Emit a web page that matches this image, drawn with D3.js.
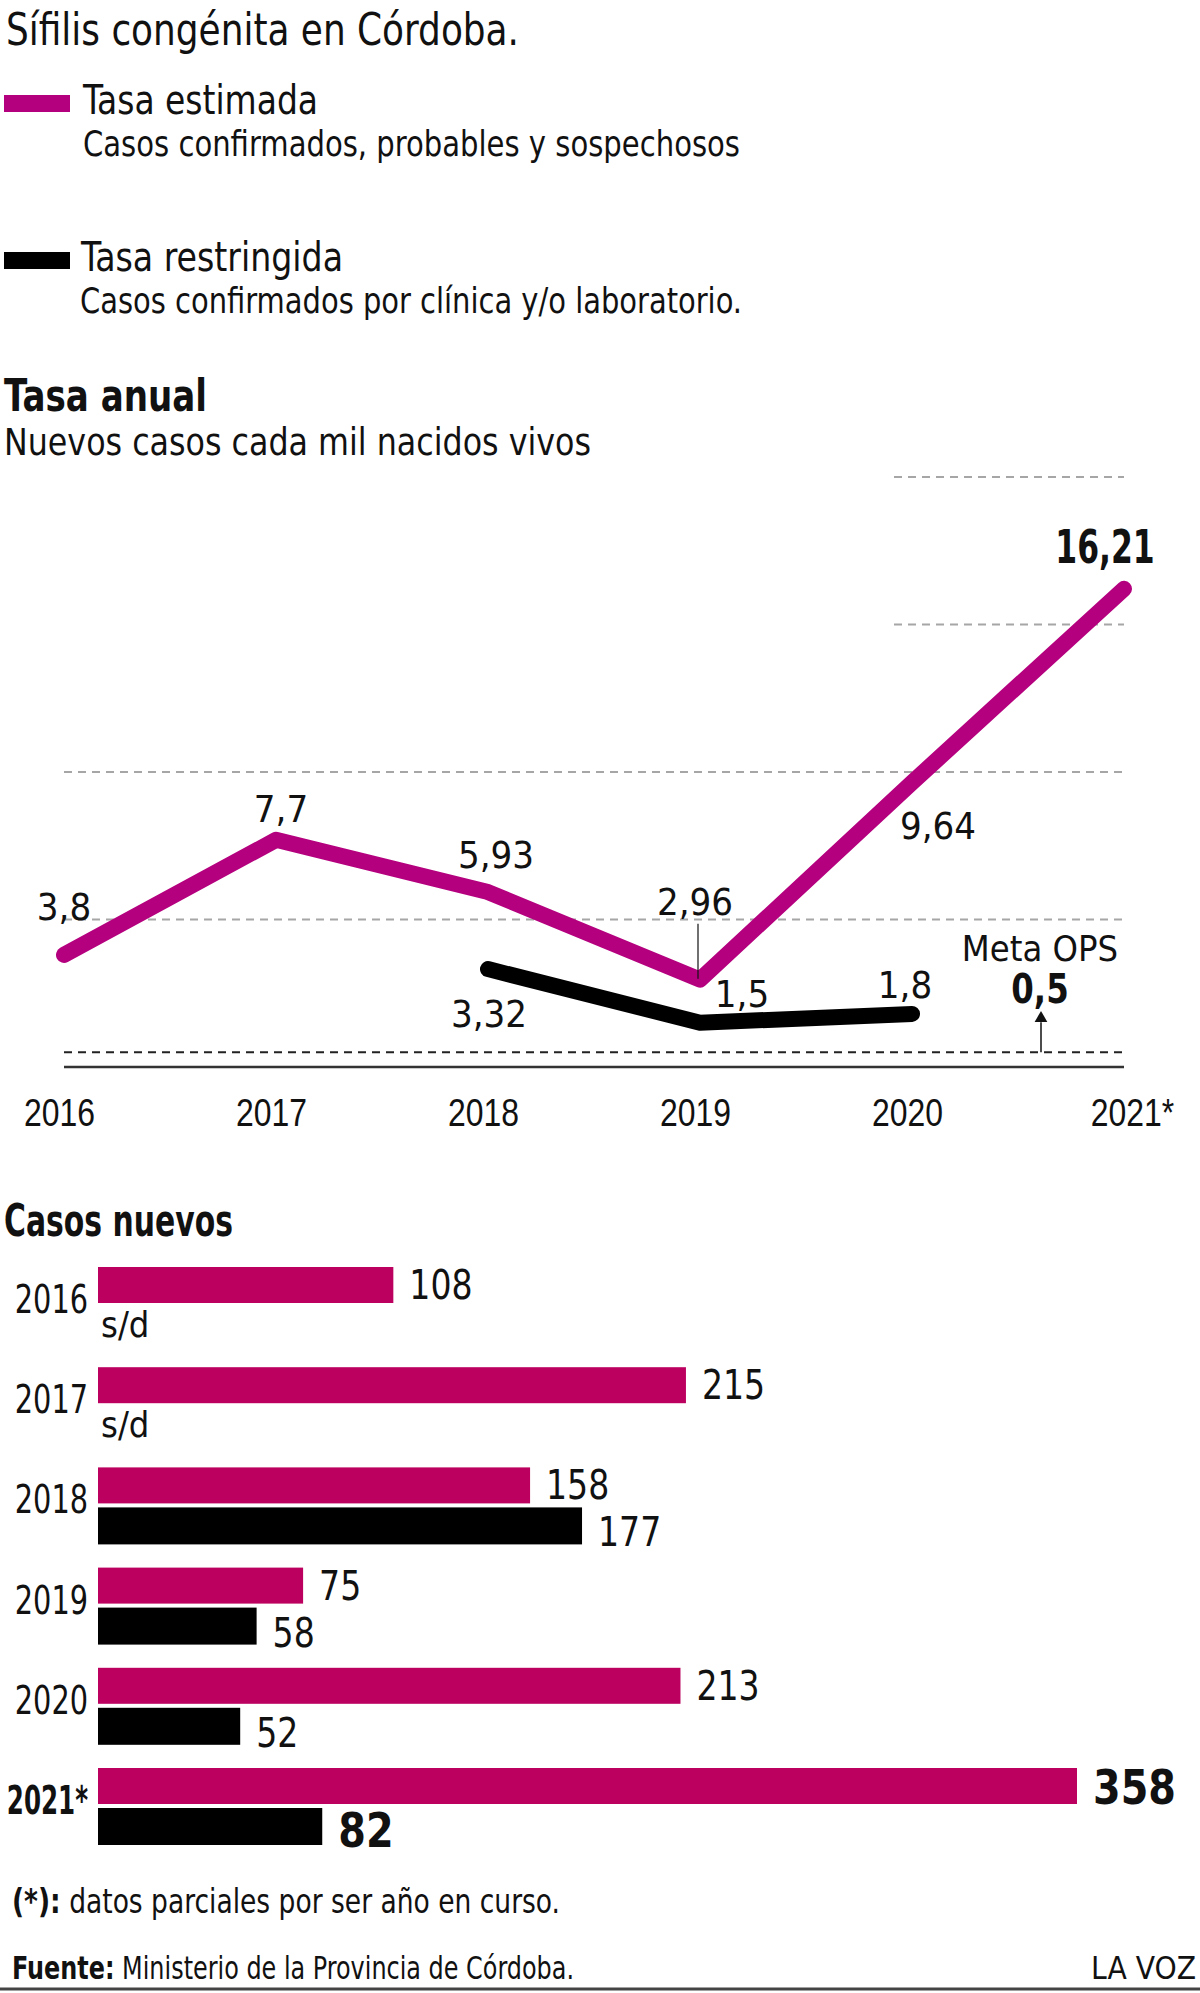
<!DOCTYPE html>
<html>
<head>
<meta charset="utf-8">
<script src="https://cdn.jsdelivr.net/npm/d3@7"></script>
<style>
  body { margin: 0; background: #fff; }
  svg { display: block; font-family: "Liberation Sans Narrow", "DejaVu Sans Condensed", sans-serif; }
</style>
</head>
<body>
<script>
// data
var years = ["2016", "2017", "2018", "2019", "2020", "2021*"];
var tasaEstimada = [3.8, 7.7, 5.93, 2.96, 9.64, 16.21];
var tasaRestringida = [null, null, 3.32, 1.5, 1.8, null];
var gridTicks = [5, 10, 15, 20];
var metaOPS = 0.5;
var casosEstimados = [108, 215, 158, 75, 213, 358];
var casosRestringidos = [null, null, 177, 58, 52, 82];

var pinkLine = "#b4007e", pinkBar = "#bb005f";
var width = 1200, height = 1993;

var svg = d3.select("body").append("svg")
    .attr("width", width)
    .attr("height", height);

function txt(x, y, s, size, weight, len) {
  var t = svg.append("text")
    .attr("x", x).attr("y", y)
    .style("font-size", size + "px")
    .style("font-weight", weight || "normal")
    .style("fill", "#111")
    .text(s);
  if (len) t.attr("textLength", len).attr("lengthAdjust", "spacingAndGlyphs");
  return t;
}

// squeeze text horizontally to look like the condensed original
function narrow(sel, k) {
  sel.each(function() {
    this.setAttribute("textLength", this.getComputedTextLength() * k);
    this.setAttribute("lengthAdjust", "spacingAndGlyphs");
  });
}

// header + legend
txt(6, 45, "Sífilis congénita en Córdoba.", 44, "normal", 513);

svg.append("rect").attr("x", 4).attr("y", 95).attr("width", 66).attr("height", 17).style("fill", pinkLine);
txt(83, 114, "Tasa estimada", 40, "normal", 235);
txt(83, 156, "Casos confirmados, probables y sospechosos", 35, "normal", 657);

svg.append("rect").attr("x", 4).attr("y", 252).attr("width", 66).attr("height", 17).style("fill", "#000");
txt(81, 271, "Tasa restringida", 40, "normal", 262);
txt(80, 313, "Casos confirmados por clínica y/o laboratorio.", 35, "normal", 662);

txt(4, 411, "Tasa anual", 44, "bold", 203);
txt(4, 455, "Nuevos casos cada mil nacidos vivos", 37, "normal", 587);

// ---- line chart
var x = d3.scalePoint().domain(years).range([64, 1124]);
var y = d3.scaleLinear().domain([0, 20]).range([1067, 477]);
var comma = function(v) { return String(v).replace(".", ","); };

var grid = svg.append("g");
grid.selectAll(".grid")
  .data(gridTicks)
  .enter().append("line")
  .attr("class", "grid")
  .attr("x1", function(d) { return d > 10 ? 894 : x("2016"); })
  .attr("x2", x("2021*"))
  .attr("y1", function(d) { return y(d); })
  .attr("y2", function(d) { return y(d); })
  .style("stroke", "#a6a6a6")
  .style("stroke-width", 2)
  .style("stroke-dasharray", "8,6");

grid.append("line")
  .attr("x1", x("2016")).attr("x2", x("2021*"))
  .attr("y1", y(metaOPS)).attr("y2", y(metaOPS))
  .style("stroke", "#222").style("stroke-width", 2).style("stroke-dasharray", "8,6");

grid.append("line")
  .attr("x1", x("2016")).attr("x2", x("2021*"))
  .attr("y1", y(0)).attr("y2", y(0))
  .style("stroke", "#333").style("stroke-width", 2.5);

var xAxis = svg.append("g")
  .attr("transform", "translate(0," + y(0) + ")")
  .call(d3.axisBottom(x).tickSize(0).tickPadding(59));
xAxis.select(".domain").remove();
xAxis.selectAll("text")
  .style("font-family", "inherit")
  .style("font-size", "38px")
  .style("fill", "#111")
  .attr("dy", "0")
  .attr("dx", function(d) { return d === "2021*" ? 8 : -5; });
narrow(xAxis.selectAll("text"), 0.84);

var line = d3.line()
  .defined(function(d) { return d[1] != null; })
  .x(function(d) { return x(d[0]); })
  .y(function(d) { return y(d[1]); });

svg.append("path")
  .datum(d3.zip(years, tasaRestringida))
  .attr("d", line)
  .style("fill", "none").style("stroke", "#000")
  .style("stroke-width", 16).style("stroke-linecap", "round").style("stroke-linejoin", "round");

svg.append("path")
  .datum(d3.zip(years, tasaEstimada))
  .attr("d", line)
  .style("fill", "none").style("stroke", pinkLine)
  .style("stroke-width", 16).style("stroke-linecap", "round").style("stroke-linejoin", "round");

// label placement offsets (dx, dy) from each point
var estOffsets = [[0, -35], [5, -18], [8, -24], [-5, -65], [26, 56], [-19, -26]];
var resOffsets = [null, null, [1, 58], [42, -16], [-7, -16], null];

// leader for 2,96
svg.append("line")
  .attr("x1", x("2019") - 2).attr("x2", x("2019") - 2)
  .attr("y1", y(2.96) - 56).attr("y2", y(2.96) - 1)
  .style("stroke", "#111").style("stroke-width", 1.2);

var lblEst = svg.selectAll(".lblEst")
  .data(d3.zip(years, tasaEstimada, estOffsets))
  .enter().append("text")
  .attr("class", "lblEst")
  .attr("x", function(d) { return x(d[0]) + d[2][0]; })
  .attr("y", function(d) { return y(d[1]) + d[2][1]; })
  .attr("text-anchor", "middle")
  .style("font-size", function(d) { return d[0] === "2021*" ? "46px" : "38px"; })
  .style("font-weight", function(d) { return d[0] === "2021*" ? "bold" : "normal"; })
  .style("fill", "#111")
  .text(function(d) { return comma(d[1]); });
narrow(lblEst.filter(function(d) { return d[0] === "2021*"; }), 0.76);

svg.selectAll(".lblRes")
  .data(d3.zip(years, tasaRestringida, resOffsets).filter(function(d) { return d[1] != null; }))
  .enter().append("text")
  .attr("class", "lblRes")
  .attr("x", function(d) { return x(d[0]) + d[2][0]; })
  .attr("y", function(d) { return y(d[1]) + d[2][1]; })
  .attr("text-anchor", "middle")
  .style("font-size", "38px")
  .style("fill", "#111")
  .text(function(d) { return comma(d[1]); });

// Meta OPS
var metaX = 1040;
txt(metaX, y(metaOPS) - 91, "Meta OPS", 36).attr("text-anchor", "middle");
narrow(txt(metaX, y(metaOPS) - 49, comma(metaOPS), 40, "bold").attr("text-anchor", "middle"), 0.9);
svg.append("line")
  .attr("x1", metaX + 1).attr("x2", metaX + 1)
  .attr("y1", y(metaOPS)).attr("y2", y(metaOPS) - 30)
  .style("stroke", "#111").style("stroke-width", 1.5);
svg.append("path")
  .attr("d", d3.symbol().type(d3.symbolTriangle).size(70)())
  .attr("transform", "translate(" + (metaX + 1) + "," + (y(metaOPS) - 34) + ")")
  .style("fill", "#111");

// ---- bar chart
txt(4, 1236, "Casos nuevos", 44, "bold", 229);

var xb = d3.scaleLinear().domain([0, 358]).range([98, 1077]);
var yb = d3.scaleBand().domain(years).range([1267, 1267 + 6 * 100.2]);
var barH = 36, blackOff = 40;

var row = svg.selectAll(".row")
  .data(d3.zip(years, casosEstimados, casosRestringidos))
  .enter().append("g")
  .attr("class", "row")
  .attr("transform", function(d) { return "translate(0," + yb(d[0]) + ")"; });

var yearLbl = row.append("text")
  .attr("x", 88).attr("y", 46)
  .attr("text-anchor", "end")
  .style("font-size", "39px")
  .style("font-weight", function(d) { return d[0] === "2021*" ? "bold" : "normal"; })
  .style("fill", "#111")
  .text(function(d) { return d[0]; });
narrow(yearLbl.filter(function(d) { return d[0] !== "2021*"; }), 0.82);
narrow(yearLbl.filter(function(d) { return d[0] === "2021*"; }), 0.7);

row.append("rect")
  .attr("x", xb(0)).attr("y", 0)
  .attr("width", function(d) { return xb(d[1]) - xb(0); })
  .attr("height", barH)
  .style("fill", pinkBar);

var pinkLbl = row.append("text")
  .attr("x", function(d) { return xb(d[1]) + 16; })
  .attr("y", function(d) { return d[0] === "2021*" ? 36 : 32; })
  .style("font-size", function(d) { return d[0] === "2021*" ? "48px" : "40px"; })
  .style("font-weight", function(d) { return d[0] === "2021*" ? "bold" : "normal"; })
  .style("fill", "#111")
  .text(function(d) { return d[1]; });
narrow(pinkLbl, 0.92);

row.filter(function(d) { return d[2] != null; }).append("rect")
  .attr("x", xb(0)).attr("y", blackOff)
  .attr("width", function(d) { return xb(d[2]) - xb(0); })
  .attr("height", barH + 1)
  .style("fill", "#000");

var blackLbl = row.filter(function(d) { return d[2] != null; }).append("text")
  .attr("x", function(d) { return xb(d[2]) + 16; })
  .attr("y", blackOff + barH + 3)
  .style("font-size", function(d) { return d[0] === "2021*" ? "48px" : "40px"; })
  .style("font-weight", function(d) { return d[0] === "2021*" ? "bold" : "normal"; })
  .style("fill", "#111")
  .text(function(d) { return d[2]; });
narrow(blackLbl, 0.92);

row.filter(function(d) { return d[2] == null; }).append("text")
  .attr("x", 101).attr("y", blackOff + 30)
  .style("font-size", "36px")
  .style("fill", "#111")
  .text("s/d");

// footer
var f1 = txt(12, 1913, "", 34, "normal", 548);
f1.append("tspan").style("font-weight", "bold").text("(*):");
f1.append("tspan").text(" datos parciales por ser año en curso.");
var f2 = txt(12, 1979, "", 32, "normal", 562);
f2.append("tspan").style("font-weight", "bold").text("Fuente:");
f2.append("tspan").text(" Ministerio de la Provincia de Córdoba.");
txt(1196, 1979, "LA VOZ", 32, "normal", 105).attr("text-anchor", "end");

svg.append("line")
  .attr("x1", 0).attr("x2", width)
  .attr("y1", 1989).attr("y2", 1989)
  .style("stroke", "#444").style("stroke-width", 3);
</script>
</body>
</html>
